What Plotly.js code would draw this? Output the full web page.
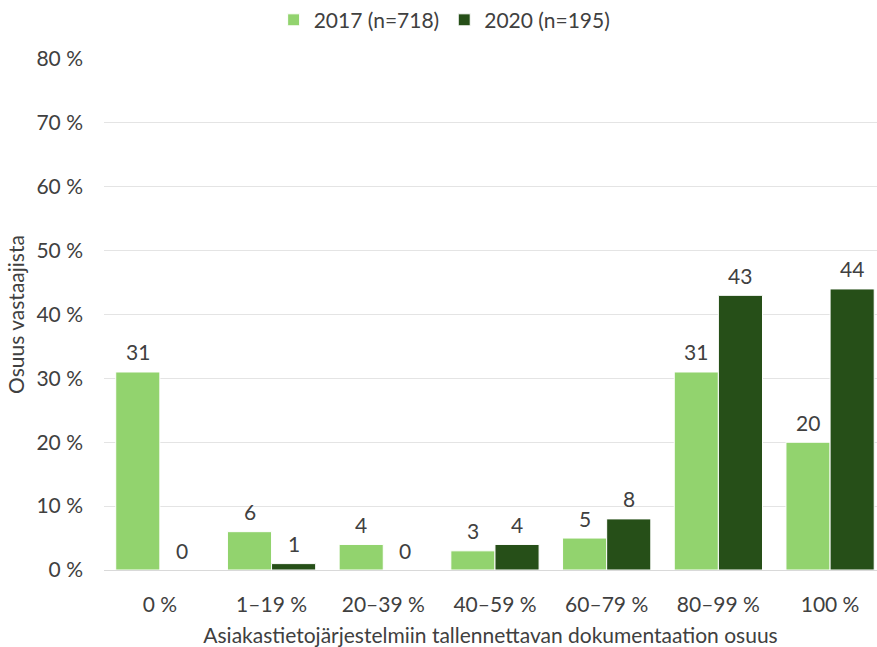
<!DOCTYPE html>
<html>
<head>
<meta charset="utf-8">
<script src="https://cdn.plot.ly/plotly-3.0.1.min.js"></script>
<style>html,body{margin:0;padding:0;background:#fff}#chart{width:877px;height:647px}</style>
</head>
<body>
<div id="chart"></div>
<script>
// Share of client documentation stored in client information systems
const categories = ['0 %', '1–19 %', '20–39 %', '40–59 %', '60–79 %', '80–99 %', '100 %'];
const values2017 = [31, 6, 4, 3, 5, 31, 20];
const values2020 = [0, 1, 0, 4, 8, 43, 44];
const seriesNames = ['2017 (n=718)', '2020 (n=195)'];
const yTickVals = [0, 10, 20, 30, 40, 50, 60, 70, 80];
const yTickText = yTickVals.map(v => v + ' %');

const FONT = 'Lato, "Source Sans Pro", "Noto Sans", sans-serif';
const TEXT = '#404040';
const SIZE = 21;
const BARGAP = 0.21;

function barTrace(name, vals, color) {
  return {
    type: 'bar', name: name, x: categories, y: vals,
    marker: {color: color, line: {color: '#ffffff', width: 1}},
    hoverinfo: 'skip'
  };
}

const data = [
  barTrace(seriesNames[0], values2017, '#92D36E'),
  barTrace(seriesNames[1], values2020, '#264F18')
];

// value labels above each bar, placed at the bar centres of the grouped layout
const half = (1 - BARGAP) / 4;
const annotations = [];
[values2017, values2020].forEach((vals, s) => {
  vals.forEach((v, i) => {
    annotations.push({
      x: i + (s === 0 ? -half : half), y: v, xref: 'x', yref: 'y',
      text: String(v), showarrow: false, yanchor: 'middle', yshift: 20,
      font: {family: FONT, size: SIZE, color: TEXT}
    });
  });
});

const layout = {
  width: 877, height: 647,
  margin: {l: 104, r: 0, t: 59, b: 77, pad: 0, autoexpand: false},
  paper_bgcolor: '#fff', plot_bgcolor: '#fff',
  font: {family: FONT, size: SIZE, color: TEXT},
  barmode: 'group', bargap: BARGAP, bargroupgap: 0,
  showlegend: true,
  legend: {orientation: 'h', xref: 'container', x: 0.507, xanchor: 'center',
           y: 1.076, yanchor: 'middle',
           font: {family: FONT, size: SIZE, color: TEXT},
           itemwidth: 30, traceorder: 'normal'},
  annotations: annotations,
  xaxis: {
    type: 'category', range: [-0.5, 6.42], showgrid: false, showline: false, zeroline: false,
    automargin: false, ticks: '', ticklabelstandoff: 20,
    tickfont: {family: FONT, size: SIZE, color: TEXT},
    title: {text: 'Asiakastietojärjestelmiin tallennettavan dokumentaation osuus',
            font: {family: FONT, size: SIZE, color: TEXT}, standoff: 15}
  },
  yaxis: {
    range: [0, 80], tickvals: yTickVals, ticktext: yTickText, automargin: false,
    showgrid: true, gridcolor: '#e4e4e4', gridwidth: 1,
    zeroline: true, zerolinecolor: '#d9d9d9', zerolinewidth: 1,
    showline: false, ticks: '', ticklabelstandoff: 20,
    tickfont: {family: FONT, size: SIZE, color: TEXT},
    title: {text: 'Osuus vastaajista', font: {family: FONT, size: SIZE, color: TEXT}, standoff: 6}
  }
};

Plotly.newPlot('chart', data, layout, {displayModeBar: false, staticPlot: true});
</script>
</body>
</html>
